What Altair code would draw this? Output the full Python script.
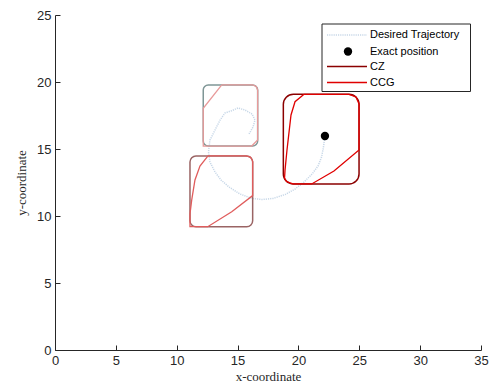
import altair as alt
import pandas as pd

# ---------------- data ----------------
x_ticks = [0, 5, 10, 15, 20, 25, 30, 35]
y_ticks = [0, 5, 10, 15, 20, 25]

traj_x = [15.94, 16.27, 16.43, 16.19, 15.61, 15.04, 14.46, 13.97, 13.56, 13.15, 12.73,
          12.61, 12.73, 13.15, 13.64, 14.30, 15.20, 16.19, 17.01, 17.91, 18.90, 19.72,
          20.46, 21.12, 21.61, 21.90, 22.06, 22.18]
traj_y = [16.12, 16.64, 17.16, 17.61, 17.91, 18.06, 17.84, 17.69, 17.16, 16.42, 15.67,
          14.78, 14.03, 13.28, 12.69, 12.16, 11.64, 11.31, 11.23, 11.31, 11.60, 12.01,
          12.54, 13.13, 13.73, 14.40, 15.15, 15.97]

dot_x = [22.18]
dot_y = [15.97]

# CZ boxes (rounded rectangles)
cz_x1 = [12.18, 11.09, 18.76]
cz_x2 = [16.65, 16.24, 24.98]
cz_y1 = [15.22, 9.20, 12.39]
cz_y2 = [19.78, 14.48, 19.08]
cz_colors = ["#7f9696", "#9a6464", "#8b0000"]
cz_radius = [5, 6, 10]

# CCG regions
ccg1_x = [13.70, 16.24, 16.53, 16.65, 16.65, 16.16, 12.18, 12.18, 13.70]
ccg1_y = [19.78, 19.78, 19.67, 19.41, 15.67, 15.22, 15.22, 18.04, 19.78]
ccg2_x = [12.57, 15.69, 16.06, 16.24, 16.24, 14.52, 12.55, 11.09, 11.09, 11.23, 11.50, 11.91, 12.57]
ccg2_y = [14.48, 14.48, 14.40, 14.10, 11.52, 10.32, 9.20, 9.20, 10.15, 11.19, 12.69, 13.73, 14.48]
ccg3_x = [20.46, 24.16, 24.73, 24.98, 24.98, 22.92, 21.09, 19.55, 19.02, 18.86, 18.90, 19.06, 19.39, 19.72, 20.46]
ccg3_y = [19.08, 19.08, 18.88, 18.36, 14.93, 13.36, 12.39, 12.39, 12.57, 12.84, 13.43, 14.93, 17.54, 18.53, 19.08]
ccg_colors = ["#e89a9a", "#e05c5c", "#e00000"]

legend_labels = ["Desired Trajectory", "Exact position", "CZ", "CCG"]

# ---------------- scales ----------------
xs = alt.Scale(domain=[0, 35], nice=False, zero=False)
ys = alt.Scale(domain=[0, 25], nice=False, zero=False)

traj_df = pd.DataFrame({"x": traj_x, "y": traj_y, "i": list(range(len(traj_x)))})

base_x = alt.X("x:Q", scale=xs, axis=alt.Axis(values=x_ticks, title="x-coordinate",
                                              titlePadding=3, labelFlush=False))
base_y = alt.Y("y:Q", scale=ys, axis=alt.Axis(values=y_ticks, title="y-coordinate",
                                              titlePadding=8, labelFlush=False))

traj_color = "#c8d8e8"
layers = []

traj = alt.Chart(traj_df).mark_line(
    color=traj_color, strokeWidth=1.5, strokeDash=[1.2, 1]
).encode(x=base_x, y=base_y, order="i:Q")
layers.append(traj)

for k in range(3):
    df = pd.DataFrame({"x": [cz_x1[k]], "x2": [cz_x2[k]], "y": [cz_y1[k]], "y2": [cz_y2[k]]})
    layers.append(
        alt.Chart(df).mark_rect(filled=False, stroke=cz_colors[k], strokeWidth=1.5,
                                cornerRadius=cz_radius[k]).encode(
            x=alt.X("x:Q", scale=xs), x2="x2:Q", y=alt.Y("y:Q", scale=ys), y2="y2:Q")
    )

for k, (cx, cy) in enumerate([(ccg1_x, ccg1_y), (ccg2_x, ccg2_y), (ccg3_x, ccg3_y)]):
    df = pd.DataFrame({"x": cx, "y": cy, "i": list(range(len(cx)))})
    layers.append(
        alt.Chart(df).mark_line(color=ccg_colors[k], strokeWidth=1.3).encode(
            x=alt.X("x:Q", scale=xs), y=alt.Y("y:Q", scale=ys), order="i:Q")
    )

dot = alt.Chart(pd.DataFrame({"x": dot_x, "y": dot_y})).mark_circle(
    color="black", size=70, opacity=1).encode(x=alt.X("x:Q", scale=xs), y=alt.Y("y:Q", scale=ys))
layers.append(dot)

# ---------------- manual legend ----------------
one = pd.DataFrame({"a": [0]})
lx0, lx1, ly0, ly1 = 267, 415.5, 9, 76.5
rows_y = [20, 36.5, 51.5, 67.5]
layers.append(alt.Chart(one).mark_rect(fill="white", stroke="#262626", strokeWidth=1).encode(
    x=alt.value(lx0), x2=alt.value(lx1), y=alt.value(ly0), y2=alt.value(ly1)))
layers.append(alt.Chart(one).mark_rule(color=traj_color, strokeWidth=1.5, strokeDash=[1.2, 1]).encode(
    x=alt.value(272), x2=alt.value(312), y=alt.value(rows_y[0])))
layers.append(alt.Chart(one).mark_circle(color="black", size=70, opacity=1).encode(
    x=alt.value(293), y=alt.value(rows_y[1])))
layers.append(alt.Chart(one).mark_rule(color=cz_colors[2], strokeWidth=1.3).encode(
    x=alt.value(272), x2=alt.value(312), y=alt.value(rows_y[2])))
layers.append(alt.Chart(one).mark_rule(color=ccg_colors[2], strokeWidth=1.3).encode(
    x=alt.value(272), x2=alt.value(312), y=alt.value(rows_y[3])))
for lab, yy in zip(legend_labels, rows_y):
    layers.append(alt.Chart(pd.DataFrame({"t": [lab]})).mark_text(
        align="left", baseline="middle", font="Liberation Sans", fontSize=11, color="black").encode(
        x=alt.value(315), y=alt.value(yy), text="t:N"))

chart = alt.layer(*layers).properties(
    width=426, height=335,
    autosize=alt.AutoSizeParams(type="none"),
    padding={"left": 47, "top": 7, "right": 12, "bottom": 36},
).configure_view(stroke=None).configure_axis(
    grid=False,
    domainColor="#262626",
    tickColor="#262626",
    tickSize=alt.ExprRef(expr="-5"),
    labelFont="Liberation Sans",
    labelFontSize=13,
    labelColor="#262626",
    labelPadding=9,
    titleFont="Liberation Serif",
    titleFontWeight="normal",
    titleFontSize=13,
    titleColor="#262626",
)

chart.save("out.html", embed_options={"renderer": "svg", "actions": False})
